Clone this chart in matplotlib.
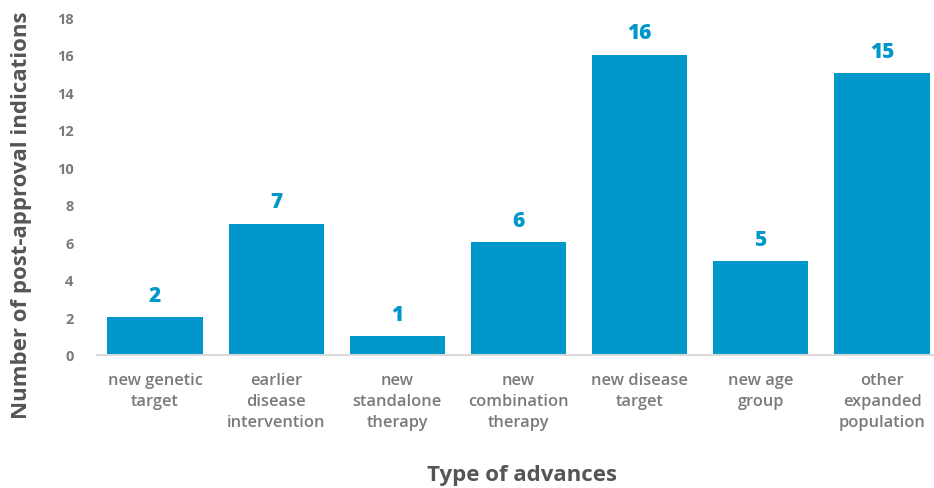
import matplotlib
matplotlib.use("Agg")
import matplotlib.pyplot as plt

categories = ["new genetic\ntarget", "earlier\ndisease\nintervention", "new\nstandalone\ntherapy",
              "new\ncombination\ntherapy", "new disease\ntarget", "new age\ngroup", "other\nexpanded\npopulation"]
values = [2, 7, 1, 6, 16, 5, 15]
yticks = [0, 2, 4, 6, 8, 10, 12, 14, 16, 18]

plt.rcParams['font.family'] = ['Open Sans', 'DejaVu Sans']
bar_color = "#0097CB"
grey = "#7a7a7a"

fig = plt.figure(figsize=(9.34, 4.89), dpi=100)
ax = fig.add_axes([97/934, (489-356)/489, (934-97)/934, (356-18)/489])
x = list(range(len(values)))
ax.bar(x, values, width=0.785, color=bar_color, zorder=2)
for xi, v in zip(x, values):
    ax.annotate(str(v), (xi, v), xytext=(0, 8), textcoords="offset points",
                ha="center", va="bottom", color=bar_color, fontsize=15, fontweight="heavy")
ax.set_xlim((97-155)/121.17, (934-155)/121.17)
ax.set_ylim(0, 18)
ax.set_yticks(yticks)
ax.set_yticklabels([str(t) for t in yticks], fontsize=10.5, fontweight="bold", color=grey)
ax.set_xticks(x)
ax.set_xticklabels(categories, fontsize=11.8, color=grey, fontweight="semibold", linespacing=1.45, va="top")
ax.tick_params(axis="both", length=0)
ax.tick_params(axis="y", pad=17)
ax.tick_params(axis="x", pad=12)
for s in ["top", "right", "left"]:
    ax.spines[s].set_visible(False)
ax.spines["bottom"].set_color("#d9d9d9")
ax.spines["bottom"].set_linewidth(1.5)
ax.set_ylabel("Number of post-approval indications", fontsize=16, fontweight="bold", color="#555555")
ax.yaxis.set_label_coords((22-97)/837, (356-215)/338)
ax.set_xlabel("Type of advances", fontsize=16, fontweight="bold", color="#555555")
ax.xaxis.set_label_coords((522-97)/837, -(476-356)/338)
ax.xaxis.label.set_va("center")
ax.yaxis.label.set_va("center")
fig.savefig("out.png", dpi=100)
